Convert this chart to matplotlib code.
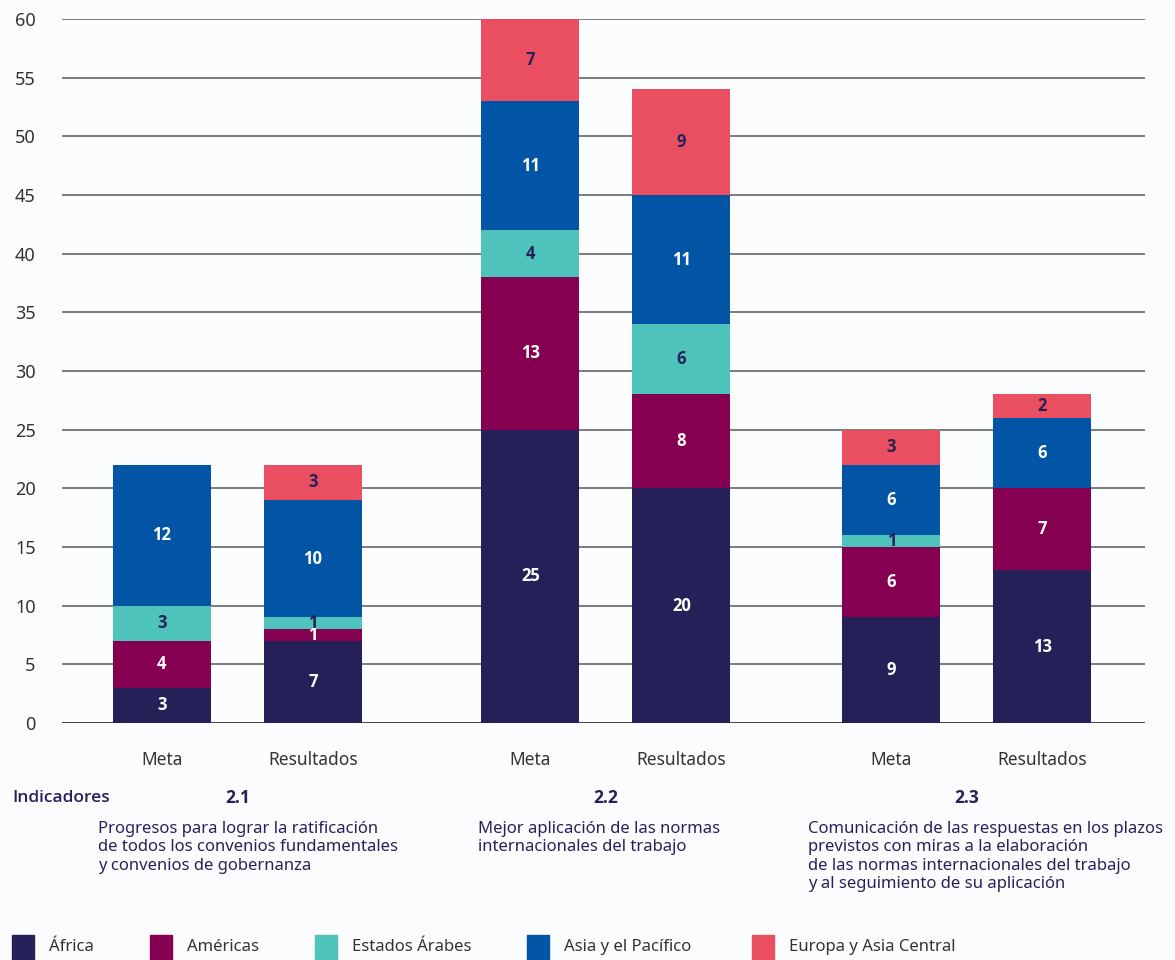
import matplotlib

matplotlib.use("Agg")
import matplotlib.pyplot as plt
from matplotlib.patches import Rectangle

plt.rcParams["font.family"] = ["Noto Sans", "DejaVu Sans"]
BOLD_FAMILY = ["Open Sans", "DejaVu Sans"]

# Stacked counts per region, one entry per bar (Meta / Resultados for 2.1, 2.2, 2.3)
bar_labels = ["Meta", "Resultados", "Meta", "Resultados", "Meta", "Resultados"]
regions = ["África", "Américas", "Estados Árabes", "Asia y el Pacífico", "Europa y Asia Central"]
africa = [3, 7, 25, 20, 9, 13]
americas = [4, 1, 13, 8, 6, 7]
estados_arabes = [3, 1, 4, 6, 1, 0]
asia_pacifico = [12, 10, 11, 11, 6, 6]
europa_asia = [0, 3, 7, 9, 3, 2]

indicators = ["2.1", "2.2", "2.3"]
descriptions = [
    "Progresos para lograr la ratificación\nde todos los convenios fundamentales\ny convenios de gobernanza",
    "Mejor aplicación de las normas\ninternacionales del trabajo",
    "Comunicación de las respuestas en los plazos\nprevistos con miras a la elaboración\nde las normas internacionales del trabajo\ny al seguimiento de su aplicación",
]
y_ticks = [0, 5, 10, 15, 20, 25, 30, 35, 40, 45, 50, 55, 60]

series = [africa, americas, estados_arabes, asia_pacifico, europa_asia]
colors = ["#252158", "#850050", "#4dc3bc", "#0255a5", "#ea4f61"]
text_colors = ["white", "white", "#262158", "white", "#262158"]
navy = "#262158"
bg = "#fbfcfe"

x = [0.0, 1.0, 2.44, 3.44, 4.83, 5.83]
width = 0.65

fig = plt.figure(figsize=(11.75, 9.6), dpi=100, facecolor=bg)
ax = fig.add_axes([62 / 1175, 1 - 723 / 960, (1145 - 62) / 1175, (723 - 19) / 960])
ax.set_facecolor(bg)

bottoms = [0] * len(x)
for vals, col, tcol in zip(series, colors, text_colors):
    ax.bar(x, vals, width=width, bottom=bottoms, color=col, zorder=3)
    for xi, b, v in zip(x, bottoms, vals):
        if v > 0:
            ax.text(xi, b + v / 2, str(v), ha="center", va="center", color=tcol,
                    fontsize=12, fontweight="bold", family=BOLD_FAMILY, zorder=4)
    bottoms = [b + v for b, v in zip(bottoms, vals)]

ax.set_xlim(-0.662, 6.51)
ax.set_ylim(0, 60)
ax.set_yticks(y_ticks)
ax.set_yticklabels([str(t) for t in y_ticks], fontsize=13, color="#333333")
for t in y_ticks:
    ax.axhline(t, color="#222222" if t == 0 else "#666666", lw=1.2, zorder=1)
ax.set_xticks(x)
ax.set_xticklabels(bar_labels, fontsize=12.5, color="#333333")
ax.tick_params(axis="y", length=0, pad=19)
ax.tick_params(axis="x", length=0, pad=20)
for s in ax.spines.values():
    s.set_visible(False)

# Indicator captions under each pair of bars
fig.text(12 / 1175, 1 - 798 / 960, "Indicadores", color=navy, fontsize=12.5,
         fontweight="semibold", family=BOLD_FAMILY, ha="left", va="center")
group_centers = [238, 606, 967]
desc_left = [98, 478, 808]
for ind, cx, lx, desc in zip(indicators, group_centers, desc_left, descriptions):
    fig.text(cx / 1175, 1 - 798 / 960, ind, color=navy, fontsize=12.5,
             fontweight="bold", family=BOLD_FAMILY, ha="center", va="center")
    fig.text(lx / 1175, 1 - 821 / 960, desc, color=navy, fontsize=12,
             ha="left", va="top", linespacing=1.2)

# Legend row along the bottom edge
legend_x = [12, 150, 315, 527, 752]
for lx, name, col in zip(legend_x, regions, colors):
    fig.patches.append(Rectangle((lx / 1175, 0), 22 / 1175, 25 / 960,
                                 transform=fig.transFigure, color=col, figure=fig))
    fig.text((lx + 37) / 1175, 1 - 947 / 960, name, color="#333333", fontsize=12,
             ha="left", va="center")

fig.savefig("out.png", dpi=100, facecolor=bg)
